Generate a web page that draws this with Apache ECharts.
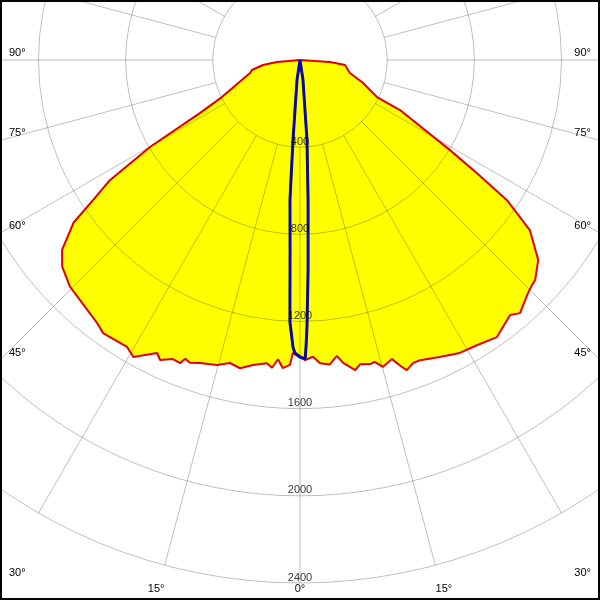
<!DOCTYPE html>
<html>
<head>
<meta charset="utf-8">
<script src="https://cdn.jsdelivr.net/npm/echarts@6/dist/echarts.min.js"></script>
<style>html,body{margin:0;padding:0;background:#fff}#c{width:600px;height:600px}</style>
</head>
<body>
<div id="c"></div>
<script>
// Radius ticks (cd) and angle labels (degrees)
const radiusTicks = [400, 800, 1200, 1600, 2000, 2400];
const angleLabelValues = [90, 75, 60, 45, 30, 15, 0];
const gridAngles = [0,15,30,45,60,75,90,105,120,135,150,165,180,195,210,225,240,255,270,285,300,315,330,345];

// Red plane (right half, angle from nadir, degrees)
const redRightAngles = [90, 86.2, 83.7, 78.2, 75.4, 70.0, 66.8, 64.3, 63.4, 59.0, 57.4, 55.9, 53.5, 50.0, 46.9, 45.9, 44.4, 41.0, 39.5, 35.4, 31.8, 28.6, 25.2, 21.8, 20.5, 19.0, 18.2, 17.1, 15.1, 13.9, 13.0, 11.2, 10.1, 8.1, 7.1, 5.6, 3.8, 2.5, 1.0, 0];
const redRightValues = [0, 138, 208, 225, 237, 308, 349, 392, 513, 803, 964, 1147, 1312, 1427, 1478, 1483, 1496, 1539, 1516, 1560, 1540, 1531, 1506, 1484, 1484, 1505, 1478, 1436, 1459, 1427, 1432, 1423, 1446, 1404, 1368, 1404, 1395, 1363, 1377, 1363];
// Red plane (left half)
const redLeftAngles = [0, 1.4, 1.9, 3.2, 4.2, 5.2, 6.2, 8.8, 11.0, 13.0, 15.2, 18.3, 20.0, 21.0, 21.6, 23.0, 25.0, 26.0, 29.3, 31.1, 35.8, 37.7, 42.5, 45.4, 49.0, 51.4, 54.3, 55.9, 57.7, 59.9, 62.1, 64.6, 66.8, 75.4, 78.2, 82.3, 85.0, 90];
const redLeftValues = [1363, 1345, 1400, 1416, 1377, 1418, 1400, 1416, 1441, 1427, 1450, 1464, 1478, 1468, 1496, 1491, 1519, 1496, 1563, 1537, 1545, 1524, 1494, 1482, 1446, 1397, 1280, 1147, 1032, 794, 518, 397, 349, 237, 225, 171, 106, 0];

// Blue plane
const blueRightAngles = [90, 8.5, 5.0, 3.3, 2.2, 1.5, 1.2, 1.0, 0];
const blueRightValues = [0, 93, 369, 643, 965, 1226, 1317, 1372, 1363];
const blueLeftAngles = [0, 1.0, 1.4, 2.2, 2.4, 3.0, 4.1, 5.0, 8.5, 90];
const blueLeftValues = [1363, 1345, 1318, 1203, 1102, 872, 644, 369, 93, 0];

// Build polar data: [radius, angle]; right side positive angle, left side 360 - angle
function buildCurve(rA, rV, lA, lV) {
  const d = [];
  rA.forEach((a, i) => d.push([rV[i], a]));
  lA.forEach((a, i) => d.push([lV[i], 360 - a]));
  return d;
}
const redData = buildCurve(redRightAngles, redRightValues, redLeftAngles, redLeftValues);
const blueData = buildCurve(blueRightAngles, blueRightValues, blueLeftAngles, blueLeftValues);

const CX = 300, CY = 60, R = 523;
const FONT = '11px "Liberation Sans", Arial, sans-serif';
const gridColor = 'rgba(0,0,0,0.25)';

const radialSeries = gridAngles.map(a => ({
  type: 'line', coordinateSystem: 'polar', clip: false, silent: true,
  symbol: 'none', z: 3, animation: false,
  lineStyle: { color: gridColor, width: 1 },
  data: [[400, a], [3200, a]]
}));

// Angle labels at the frame edge
const graphics = [];
angleLabelValues.forEach(a => {
  const sides = a === 0 ? [0] : [-1, 1];
  sides.forEach(side => {
    const rad = a * Math.PI / 180;
    const sx = Math.sin(rad), cy = Math.cos(rad);
    const tSide = sx > 1e-6 ? 300 / sx : Infinity;
    const tBot = cy > 1e-6 ? 537 / cy : Infinity;
    let x, y, align;
    if (tSide <= tBot) {
      y = CY + tSide * cy - 7; x = side < 0 ? 9 : 591; align = side < 0 ? 'left' : 'right';
    } else {
      y = 589; x = CX + side * tBot * sx; align = 'center';
    }
    graphics.push({ type: 'text', x: x, y: y, z: 50,
      style: { text: a + '°', font: FONT, fill: '#000', align: align, verticalAlign: 'middle', textAlign: align, textVerticalAlign: 'middle' } });
  });
});
graphics.push({ type: 'rect', z: 100, shape: { x: 1, y: 1, width: 598, height: 598 },
  style: { fill: 'none', stroke: '#000', lineWidth: 2 } });

const chart = echarts.init(document.getElementById('c'), null, { renderer: 'canvas' });
chart.setOption({
  animation: false,
  backgroundColor: '#fff',
  polar: { center: [CX, CY], radius: R },
  angleAxis: {
    type: 'value', min: 0, max: 360, startAngle: 270, clockwise: false,
    axisLine: { show: false }, axisTick: { show: false }, axisLabel: { show: false },
    splitLine: { show: false }
  },
  radiusAxis: {
    type: 'value', min: 0, max: 2400, interval: 400, z: 3,
    axisLine: { show: false }, axisTick: { show: false }, axisLabel: { show: false },
    splitLine: { show: true, lineStyle: { color: gridColor, width: 1 } }
  },
  graphic: graphics,
  series: [
    { type: 'line', coordinateSystem: 'polar', data: redData, symbol: 'none', z: 1,
      lineStyle: { width: 0, opacity: 0 }, areaStyle: { color: '#ffff00', opacity: 1 } },
    ...radialSeries,
    { type: 'line', coordinateSystem: 'polar', data: redData, symbol: 'none', z: 5,
      lineStyle: { color: '#e00000', width: 2 } },
    { type: 'line', coordinateSystem: 'polar', data: blueData, symbol: 'none', z: 5,
      lineStyle: { color: '#222222', width: 3 } },
    { type: 'line', coordinateSystem: 'polar', data: blueData, symbol: 'none', z: 6,
      lineStyle: { color: '#0000dd', width: 2 } },
    { type: 'scatter', coordinateSystem: 'polar', symbolSize: 0, z: 8,
      data: radiusTicks.map(v => [v, 0]),
      label: { show: true, position: 'top', distance: 0, color: '#000',
        fontSize: 11, fontFamily: '"Liberation Sans", Arial, sans-serif',
        formatter: p => String(p.value[0]) } }
  ]
});
</script>
</body>
</html>
